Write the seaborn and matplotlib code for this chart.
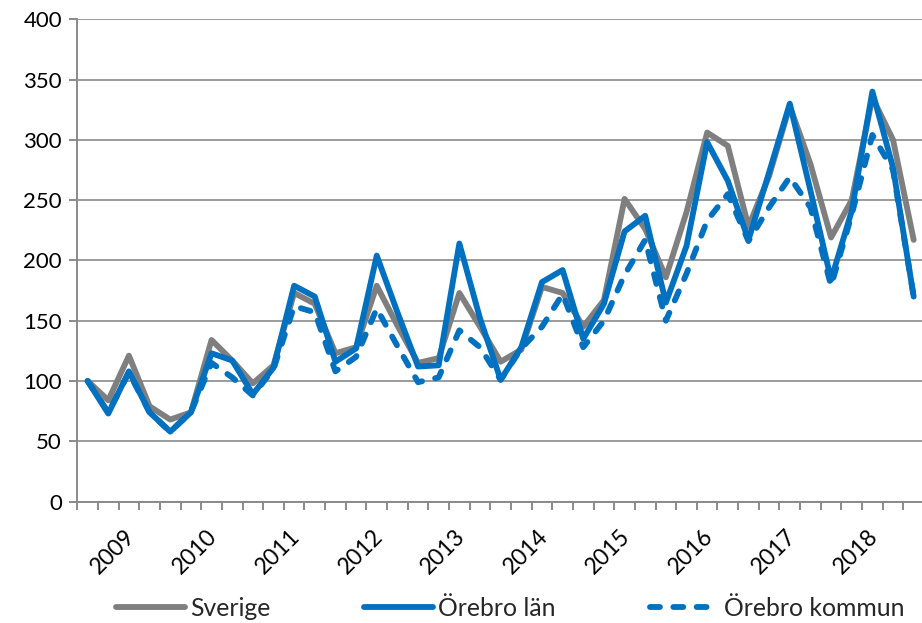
import numpy as np
import pandas as pd
import matplotlib
matplotlib.use("Agg")
import matplotlib.pyplot as plt
import matplotlib.transforms as mtransforms
import seaborn as sns

# ---- data (quarterly index, 41 quarters) ----
years = ["2009", "2010", "2011", "2012", "2013", "2014", "2015", "2016", "2017", "2018"]
quarters = list(range(41))
sverige = [100, 84, 121, 79, 68, 74, 134, 117, 98, 113,
           173, 164, 123, 128, 179, 146, 115, 119, 173, 145,
           116, 126, 178, 173, 145, 167, 251, 226, 186, 240,
           306, 295, 228, 270, 328, 280, 219, 250, 335, 300, 217]
orebro_lan = [100, 73, 108, 74, 58, 74, 123, 117, 89, 111,
              179, 170, 116, 127, 204, 157, 112, 113, 214, 152,
              101, 128, 182, 192, 135, 164, 224, 237, 165, 212,
              298, 266, 217, 273, 330, 258, 184, 241, 340, 277, 170]
orebro_kommun = [100, 74, 107, 74, 58, 74, 115, 103, 88, 110,
                 162, 157, 108, 120, 160, 129, 99, 103, 142, 128,
                 101, 127, 145, 172, 128, 150, 188, 217, 150, 189,
                 233, 255, 216, 244, 269, 244, 179, 238, 304, 275, 170]
series_names = ["Sverige", "Örebro län", "Örebro kommun"]

df = pd.DataFrame({
    "q": quarters * 3,
    "value": sverige + orebro_lan + orebro_kommun,
    "serie": [series_names[0]] * 41 + [series_names[1]] * 41 + [series_names[2]] * 41,
})

sns.set_theme(style="white")
plt.rcParams["font.family"] = ["Lato", "DejaVu Sans"]

GRAY = "#7f7f7f"
BLUE = "#0070c0"
GRID = "#8a8a8a"

W, H = 922, 623
fig = plt.figure(figsize=(W / 100, H / 100), dpi=100)
x0, x1, y0, y1 = 77.3, 924.0, 501.6, 19.2
ax = fig.add_axes([x0 / W, 1 - y0 / H, (x1 - x0) / W, (y0 - y1) / H])

sns.lineplot(data=df, x="q", y="value", hue="serie", style="serie",
             hue_order=series_names, style_order=series_names,
             palette={"Sverige": GRAY, "Örebro län": BLUE, "Örebro kommun": BLUE},
             dashes={"Sverige": "", "Örebro län": "", "Örebro kommun": (1.7, 2.3)},
             linewidth=4.2, ax=ax, estimator=None, sort=False)

for line in ax.get_lines():
    line.set_dash_capstyle("round")
    line.set_solid_capstyle("round")
    line.set_solid_joinstyle("round")

ax.set_xlim(-0.5, 40.5)
ax.set_ylim(0, 400)
ax.set_yticks(np.arange(0, 401, 50))
ax.yaxis.grid(True, color=GRID, linewidth=1.2)
ax.set_axisbelow(True)
ax.set_xlabel("")
ax.set_ylabel("")

for s in ["top", "right"]:
    ax.spines[s].set_visible(False)
for s in ["left", "bottom"]:
    ax.spines[s].set_color(GRID)
    ax.spines[s].set_linewidth(1.4)

# category boundaries as minor ticks, year labels as major ticks
ax.set_xticks(np.arange(-0.5, 41, 1), minor=True)
ax.set_xticks([2 + 4 * k for k in range(len(years))])
ax.set_xticklabels(years, rotation=45, ha="right", va="top", rotation_mode="anchor")
ax.tick_params(axis="x", which="minor", length=6, width=1.4, color=GRID, direction="out")
ax.tick_params(axis="x", which="major", length=0, pad=17, labelsize=16.5, labelcolor="black")
ax.tick_params(axis="y", which="major", length=6, width=1.4, color=GRID, direction="out",
               pad=5, labelsize=16, labelcolor="black")
ax.tick_params(bottom=True, left=True, which="both")

offset = mtransforms.ScaledTranslation(-5 / 100, 0, fig.dpi_scale_trans)
for lab in ax.get_xticklabels():
    lab.set_transform(lab.get_transform() + offset)

handles, labels = ax.get_legend_handles_labels()
ax.get_legend().remove()
fig.legend(handles, labels, loc="center", bbox_to_anchor=(510 / W, 1 - 608 / H),
           ncol=3, frameon=False, fontsize=17.8, handlelength=2.8,
           handletextpad=0.2, columnspacing=3.8, borderaxespad=0)

fig.savefig("out.png", dpi=100)
